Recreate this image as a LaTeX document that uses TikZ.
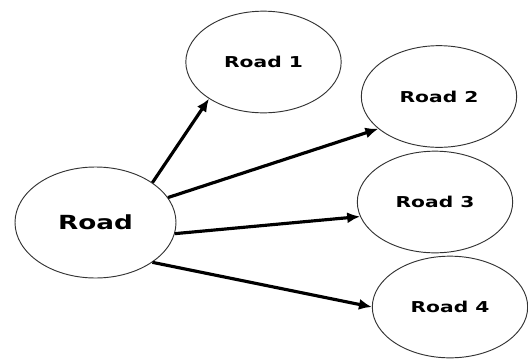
\documentclass[tikz,border=0pt]{standalone}
\usepackage{fontspec}
\usepackage{graphicx}
\usepackage{tikz}
\usetikzlibrary{arrows.meta,shapes.geometric}
\newfontfamily\roadfont{DejaVu Sans}
\newcommand{\wide}[1]{\scalebox{1.35}[1]{#1}}

\begin{document}
\begin{tikzpicture}[
    x=0.03cm, y=-0.03cm,
    hub/.style={ellipse, draw=black!80, line width=0.8pt, inner sep=0pt,
        minimum width=4.83cm, minimum height=3.33cm,
        font=\roadfont\bfseries\fontsize{16.6}{18}\selectfont},
    branch/.style={hub, minimum width=4.66cm, minimum height=3.05cm,
        font=\roadfont\bfseries\fontsize{12.8}{14}\selectfont},
    link/.style={line width=2.7pt, -{Latex[length=11pt,width=9.5pt]}}
]
\useasboundingbox (0,0) rectangle (528,358);

% Source road
\node[hub] (road) at (95.5,222.5) {\wide{Road}};

% Branches
\node[branch] (r1) at (263.5,62) {\wide{Road 1}};
\node[branch] (r2) at (439,96.5) {\wide{Road 2}};
\node[branch] (r3) at (435,202) {\wide{Road 3}};
\node[branch] (r4) at (450,307) {\wide{Road 4}};

\draw[link] (road.35) -- (r1.214);
\draw[link] (road.19) -- (r2.208);
\draw[link] (road.-8) -- (r3.191);
\draw[link] (road.-35) -- (r4.180);
\end{tikzpicture}
\end{document}
